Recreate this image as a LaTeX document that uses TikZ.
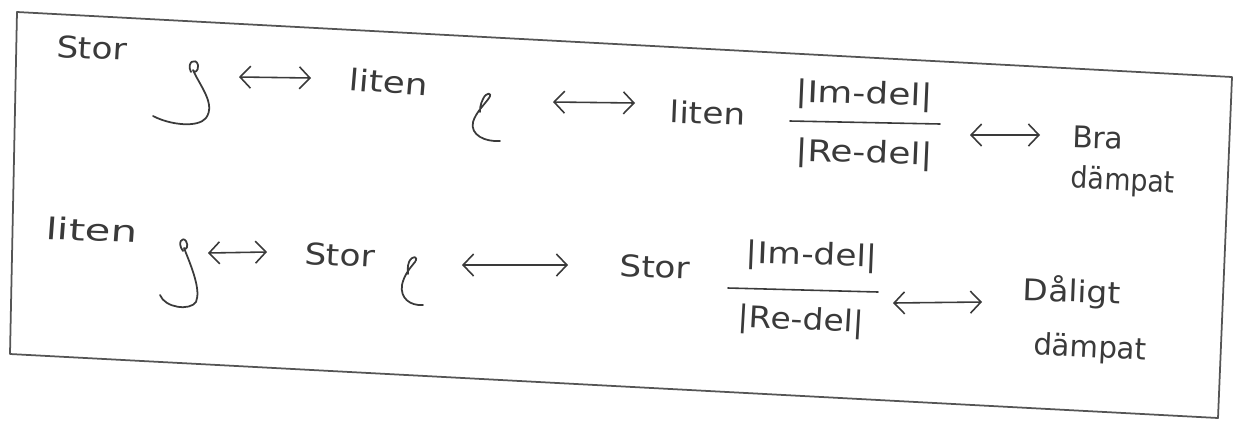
\documentclass[tikz,border=0pt]{standalone}
\usepackage{fontspec}
\setmainfont{DejaVu Sans}
\usetikzlibrary{arrows.meta}
\definecolor{ink}{HTML}{3A3A3A}
\definecolor{frameink}{HTML}{555555}
\begin{document}
\begin{tikzpicture}[x=0.02cm,y=-0.02cm,
  hw/.style={font=\fontsize{17}{20}\selectfont, text=ink, inner sep=0pt, anchor=center},
  link/.style={draw=ink, line width=0.9pt, line cap=round,
    {Straight Barb[length=2.1mm,width=4.4mm]}-{Straight Barb[length=2.1mm,width=4.4mm]}},
  pen/.style={draw=ink, line width=1pt, line cap=round, line join=round},
  bar/.style={draw=ink, line width=0.9pt, line cap=round}]
\useasboundingbox (0,0) rectangle (1240,427);

% sheet frame
\draw[frameink, line width=1pt, line join=round]
  (17,12) -- (1232,77) -- (1218,418) -- (10,354) -- cycle;

% ---------- first line ----------
\node[hw, xscale=1.15, rotate=-3] (stor1) at (92,48) {Stor};
\draw[pen] (191,72) .. controls (186,62) and (196,57) .. (198,65)
  .. controls (199,71) and (194,74) .. (193,70)
  .. controls (200,86) and (216,104) .. (206,118)
  .. controls (198,128) and (170,125) .. (153,116);
\coordinate (a1l) at (239,77);
\coordinate (a1r) at (311,78);
\draw[link] (a1l) -- (a1r);
\node[hw, xscale=1.2, rotate=-4] (liten1) at (389,82) {liten};
\draw[pen] (500,141) .. controls (485,142) and (470,135) .. (473,122)
  .. controls (476,112) and (485,104) .. (489,98)
  .. controls (493,92) and (486,92) .. (483,99)
  .. controls (480,105) and (480,109) .. (480,112);
\coordinate (a2l) at (553,102);
\coordinate (a2r) at (635,103);
\draw[link] (a2l) -- (a2r);
\node[hw, xscale=1.15, rotate=-2] (liten2) at (708,113) {liten};
\node[hw, xscale=1.2, rotate=-2] (num1) at (864,96) {|Im-del|};
\coordinate (b1l) at (790,121);
\coordinate (b1r) at (940,124);
\draw[bar] (b1l) -- (b1r);
\node[hw, xscale=1.2, rotate=-2] (den1) at (864,155) {|Re-del|};
\coordinate (a3l) at (970,135);
\coordinate (a3r) at (1040,135);
\draw[link] (a3l) -- (a3r);
\node[hw, rotate=-2] (bra) at (1098,138) {Bra};
\node[hw, xscale=0.9, rotate=-3] (damp1) at (1123,182) {dämpat};

% ---------- second line ----------
\node[hw, xscale=1.4, rotate=-3] (liten3) at (92,230) {liten};
\draw[pen] (183,251) .. controls (177,243) and (182,236) .. (186,241)
  .. controls (189,246) and (186,251) .. (184,248)
  .. controls (192,268) and (201,290) .. (196,302)
  .. controls (190,311) and (165,308) .. (160,295);
\coordinate (a4l) at (208,253);
\coordinate (a4r) at (267,252);
\draw[link] (a4l) -- (a4r);
\node[hw, xscale=1.15, rotate=-3] (stor2) at (340,255) {Stor};
\draw[pen] (423,305) .. controls (410,306) and (400,298) .. (402,285)
  .. controls (404,275) and (410,268) .. (415,262)
  .. controls (419,256) and (412,255) .. (409,262)
  .. controls (407,267) and (408,272) .. (408,274);
\coordinate (a5l) at (462,265);
\coordinate (a5r) at (568,265);
\draw[link] (a5l) -- (a5r);
\node[hw, xscale=1.15, rotate=-2] (stor3) at (655,267) {Stor};
\node[hw, xscale=1.15, rotate=-2] (num2) at (812,257) {|Im-del|};
\coordinate (b2l) at (728,288);
\coordinate (b2r) at (878,292);
\draw[bar] (b2l) -- (b2r);
\node[hw, xscale=1.1, rotate=-3] (den2) at (801,322) {|Re-del|};
\coordinate (a6l) at (893,303);
\coordinate (a6r) at (982,302);
\draw[link] (a6l) -- (a6r);
\node[hw, xscale=1.1, rotate=-2] (dalig) at (1072,292) {Dåligt};
\node[hw, xscale=0.98, rotate=-3] (damp2) at (1090,349) {dämpat};
\end{tikzpicture}
\end{document}
